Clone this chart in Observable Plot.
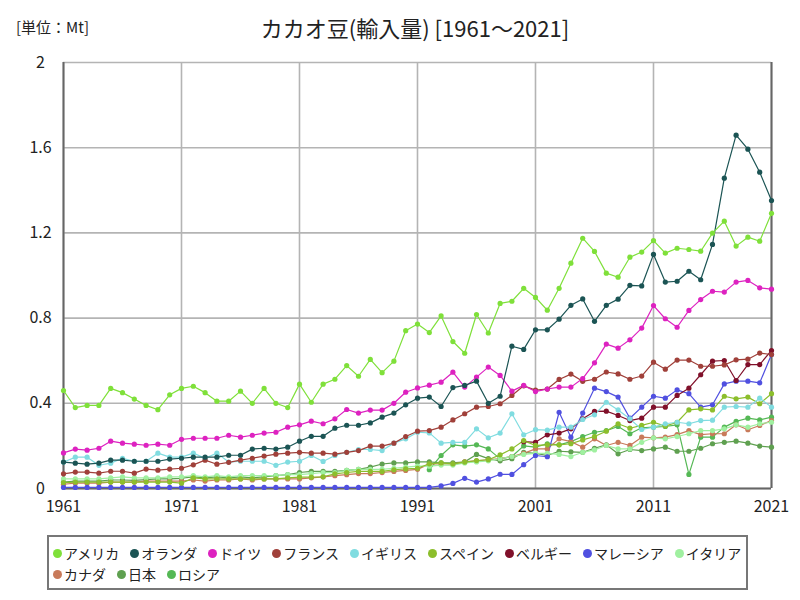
<!DOCTYPE html>
<html><head><meta charset="utf-8">
<script src="https://cdn.jsdelivr.net/npm/d3@7"></script>
<script src="https://cdn.jsdelivr.net/npm/@observablehq/plot@0.6"></script>
<style>
body{margin:0;background:#fff;font-family:"Noto Sans CJK JP",sans-serif;color:#222;}
#wrap{position:relative;width:800px;height:600px;overflow:hidden;}
#unit{position:absolute;left:16px;top:16px;font-size:15px;}
#title{position:absolute;left:0;width:830px;text-align:center;top:11px;font-size:22px;}
#chart{position:absolute;left:0;top:50px;}
#legend{position:absolute;left:47px;top:535px;width:697px;height:51px;border:2px solid #777;box-sizing:content-box;padding:0;}
#legend .row{position:absolute;left:4px;display:flex;gap:11px;font-size:14px;line-height:20px;white-space:nowrap;}
#legend .it{display:flex;align-items:center;}
#legend .dot{width:9px;height:9px;border-radius:50%;margin-right:2px;}
</style></head>
<body><div id="wrap">
<div id="unit">[単位：Mt]</div>
<div id="title">カカオ豆(輸入量) [1961～2021]</div>
<div id="chart"></div>
<div id="legend"></div>
</div>
<script>
const countries = ["アメリカ","オランダ","ドイツ","フランス","イギリス","スペイン","ベルギー","マレーシア","イタリア","カナダ","日本","ロシア"];
const colors = ["#7fe03a","#1b5454","#dd22c0","#a0403a","#80dce0","#8cbe2c","#80102a","#5050e0","#a0f0a0","#c87a5a","#5fa050","#55b855"];
const firstYear = 1961, lastYear = 2021;
const startYears = {"ベルギー":2000, "ロシア":1992};
const yTicks = [0,0.4,0.8,1.2,1.6,2];
const xTicks = [1961,1971,1981,1991,2001,2011,2021];

const america = [0.46,0.38,0.39,0.39,0.47,0.45,0.42,0.39,0.37,0.44,
0.47,0.48,0.45,0.41,0.41,0.457,0.40,0.47,0.40,0.38,
0.49,0.405,0.49,0.513,0.577,0.527,0.606,0.544,0.598,0.741,
0.772,0.732,0.81,0.69,0.635,0.817,0.73,0.869,0.879,0.94,
0.897,0.837,0.94,1.058,1.175,1.113,1.011,0.992,1.086,1.11,
1.164,1.105,1.128,1.122,1.114,1.199,1.255,1.138,1.18,1.161,
1.292];
const netherlands = [0.124,0.119,0.114,0.119,0.133,0.133,0.128,0.128,0.128,0.138,
0.142,0.147,0.147,0.147,0.156,0.156,0.185,0.189,0.185,0.194,
0.222,0.245,0.245,0.283,0.297,0.297,0.308,0.335,0.354,0.393,
0.424,0.429,0.385,0.474,0.484,0.504,0.40,0.433,0.668,0.653,
0.745,0.745,0.795,0.86,0.89,0.785,0.86,0.889,0.954,0.951,
1.099,0.969,0.973,1.02,0.98,1.146,1.457,1.659,1.593,1.485,
1.352];
const germany = [0.167,0.185,0.18,0.189,0.222,0.213,0.208,0.203,0.208,0.203,
0.231,0.236,0.236,0.236,0.25,0.241,0.25,0.26,0.264,0.288,
0.299,0.316,0.304,0.327,0.371,0.354,0.368,0.368,0.40,0.452,
0.472,0.485,0.499,0.546,0.476,0.523,0.57,0.531,0.457,0.484,
0.455,0.467,0.476,0.476,0.516,0.59,0.678,0.659,0.698,0.753,
0.859,0.797,0.757,0.836,0.887,0.926,0.922,0.969,0.977,0.942,
0.936];
const france = [0.069,0.077,0.077,0.072,0.081,0.081,0.072,0.091,0.086,0.091,
0.095,0.111,0.133,0.114,0.123,0.133,0.142,0.152,0.161,0.166,
0.17,0.166,0.166,0.161,0.17,0.178,0.199,0.199,0.213,0.244,
0.269,0.272,0.288,0.322,0.351,0.382,0.385,0.398,0.437,0.482,
0.462,0.467,0.512,0.537,0.503,0.513,0.547,0.538,0.513,0.528,
0.593,0.56,0.603,0.603,0.574,0.574,0.58,0.604,0.607,0.636,
0.629];
const uk = [0.124,0.147,0.147,0.109,0.119,0.142,0.128,0.128,0.166,0.147,
0.147,0.166,0.142,0.166,0.124,0.128,0.128,0.128,0.109,0.124,
0.128,0.155,0.127,0.155,0.17,0.183,0.183,0.178,0.213,0.233,
0.264,0.261,0.213,0.217,0.217,0.28,0.238,0.26,0.351,0.252,
0.276,0.274,0.288,0.288,0.324,0.346,0.405,0.369,0.327,0.277,
0.288,0.304,0.311,0.304,0.319,0.321,0.382,0.385,0.382,0.424,
0.382];
const spain = [0.028,0.03,0.03,0.03,0.03,0.03,0.03,0.03,0.03,0.03,
0.025,0.05,0.045,0.045,0.045,0.045,0.045,0.045,0.045,0.05,
0.053,0.053,0.055,0.069,0.075,0.08,0.08,0.08,0.088,0.092,
0.095,0.116,0.12,0.116,0.124,0.131,0.135,0.158,0.186,0.225,
0.202,0.205,0.205,0.21,0.228,0.244,0.269,0.304,0.283,0.296,
0.311,0.293,0.311,0.369,0.374,0.369,0.433,0.421,0.429,0.398,
0.445];
const belgium = [0.22,0.217,0.252,0.26,0.28,0.327,0.362,0.363,0.343,0.319,
0.33,0.382,0.382,0.437,0.471,0.534,0.598,0.601,0.507,0.582,0.582,0.648];
const malaysia = [0.005,0.005,0.005,0.005,0.005,0.005,0.005,0.005,0.005,0.005,
0.005,0.005,0.005,0.005,0.005,0.005,0.005,0.005,0.005,0.005,
0.005,0.005,0.005,0.005,0.005,0.005,0.005,0.005,0.005,0.005,
0.005,0.005,0.012,0.024,0.048,0.03,0.045,0.067,0.066,0.112,
0.155,0.149,0.358,0.241,0.354,0.471,0.455,0.429,0.33,0.382,
0.433,0.424,0.463,0.445,0.382,0.393,0.491,0.504,0.504,0.496,
0.629];
const italy = [0.045,0.045,0.045,0.045,0.05,0.055,0.05,0.05,0.05,0.055,
0.055,0.06,0.055,0.06,0.055,0.06,0.06,0.06,0.06,0.065,
0.065,0.07,0.075,0.075,0.085,0.09,0.09,0.09,0.095,0.1,
0.105,0.105,0.11,0.11,0.12,0.125,0.13,0.14,0.15,0.16,
0.165,0.165,0.16,0.15,0.17,0.181,0.202,0.186,0.186,0.217,
0.238,0.233,0.244,0.257,0.272,0.272,0.28,0.299,0.288,0.304,
0.311];
const canada = [0.02,0.025,0.025,0.025,0.03,0.03,0.03,0.035,0.035,0.035,
0.035,0.04,0.035,0.04,0.04,0.045,0.04,0.045,0.045,0.045,
0.045,0.05,0.055,0.06,0.065,0.07,0.07,0.075,0.08,0.085,
0.09,0.115,0.115,0.115,0.125,0.13,0.135,0.14,0.15,0.165,
0.186,0.186,0.233,0.22,0.194,0.233,0.202,0.217,0.202,0.241,
0.238,0.241,0.253,0.272,0.253,0.257,0.257,0.299,0.276,0.296,
0.319];
const japan = [0.03,0.035,0.035,0.035,0.04,0.04,0.038,0.042,0.045,0.045,
0.048,0.055,0.05,0.055,0.05,0.055,0.05,0.055,0.06,0.065,
0.075,0.08,0.08,0.08,0.085,0.09,0.1,0.115,0.12,0.12,
0.125,0.125,0.12,0.12,0.125,0.16,0.14,0.13,0.14,0.17,
0.165,0.155,0.175,0.172,0.17,0.189,0.205,0.163,0.183,0.178,
0.186,0.194,0.175,0.175,0.189,0.21,0.217,0.222,0.213,0.199,
0.194];
const russia = [0.088,0.155,0.205,0.199,0.205,0.186,0.139,0.15,0.2,0.194,
0.21,0.205,0.22,0.244,0.264,0.272,0.291,0.257,0.285,0.288,
0.291,0.299,0.066,0.241,0.241,0.288,0.315,0.33,0.322,0.335];

const seriesList = [america,netherlands,germany,france,uk,spain,belgium,malaysia,italy,canada,japan,russia];
const rows = [];
countries.forEach((c,i) => {
  const start = startYears[c] || firstYear;
  seriesList[i].forEach((v,j) => rows.push({country:c, year:start+j, value:v}));
});
const drawOrder = [...countries].reverse();
const ordered = rows.slice().sort((a,b)=>drawOrder.indexOf(a.country)-drawOrder.indexOf(b.country));

const chart = Plot.plot({
  width: 800, height: 475,
  marginTop: 12, marginBottom: 37, marginLeft: 63, marginRight: 29,
  style: {fontFamily: '"Noto Sans CJK JP", sans-serif', fontSize: "16px", color: "#222", overflow: "visible"},
  x: {domain: [firstYear, lastYear]},
  y: {domain: [0, 2]},
  color: {domain: countries, range: colors},
  marks: [
    Plot.gridY(yTicks, {stroke: "#b4b4b4", strokeOpacity: 1, strokeWidth: 1.6}),
    Plot.gridX(xTicks, {stroke: "#b4b4b4", strokeOpacity: 1, strokeWidth: 1.6}),
    Plot.ruleX([firstYear], {stroke: "#666", strokeWidth: 2}),
    Plot.ruleX([lastYear], {stroke: "#666", strokeWidth: 2}),
    Plot.ruleY([0], {stroke: "#666", strokeWidth: 2}),
    Plot.axisY({ticks: yTicks, tickSize: 0, tickPadding: 23, textAnchor: "middle", fontSize: 16, tickFormat: d => String(+d.toFixed(1)), label: null}),
    Plot.axisX({ticks: xTicks, tickSize: 0, tickPadding: 12, fontSize: 16, tickFormat: d => String(d), label: null}),
    Plot.line(ordered, {x: "year", y: "value", z: "country", stroke: "country", strokeWidth: 1.2}),
    Plot.dot(ordered, {x: "year", y: "value", fill: "country", r: 2.6, stroke: null})
  ]
});
document.getElementById("chart").appendChild(chart);

const legend = document.getElementById("legend");
const rowsDef = [countries.slice(0,9), countries.slice(9)];
rowsDef.forEach((names, r) => {
  const row = document.createElement("div");
  row.className = "row";
  row.style.top = (6 + r*21) + "px";
  names.forEach(n => {
    const it = document.createElement("span");
    it.className = "it";
    const d = document.createElement("span");
    d.className = "dot";
    d.style.background = colors[countries.indexOf(n)];
    it.appendChild(d);
    it.appendChild(document.createTextNode(n));
    row.appendChild(it);
  });
  legend.appendChild(row);
});
</script>
</body></html>
